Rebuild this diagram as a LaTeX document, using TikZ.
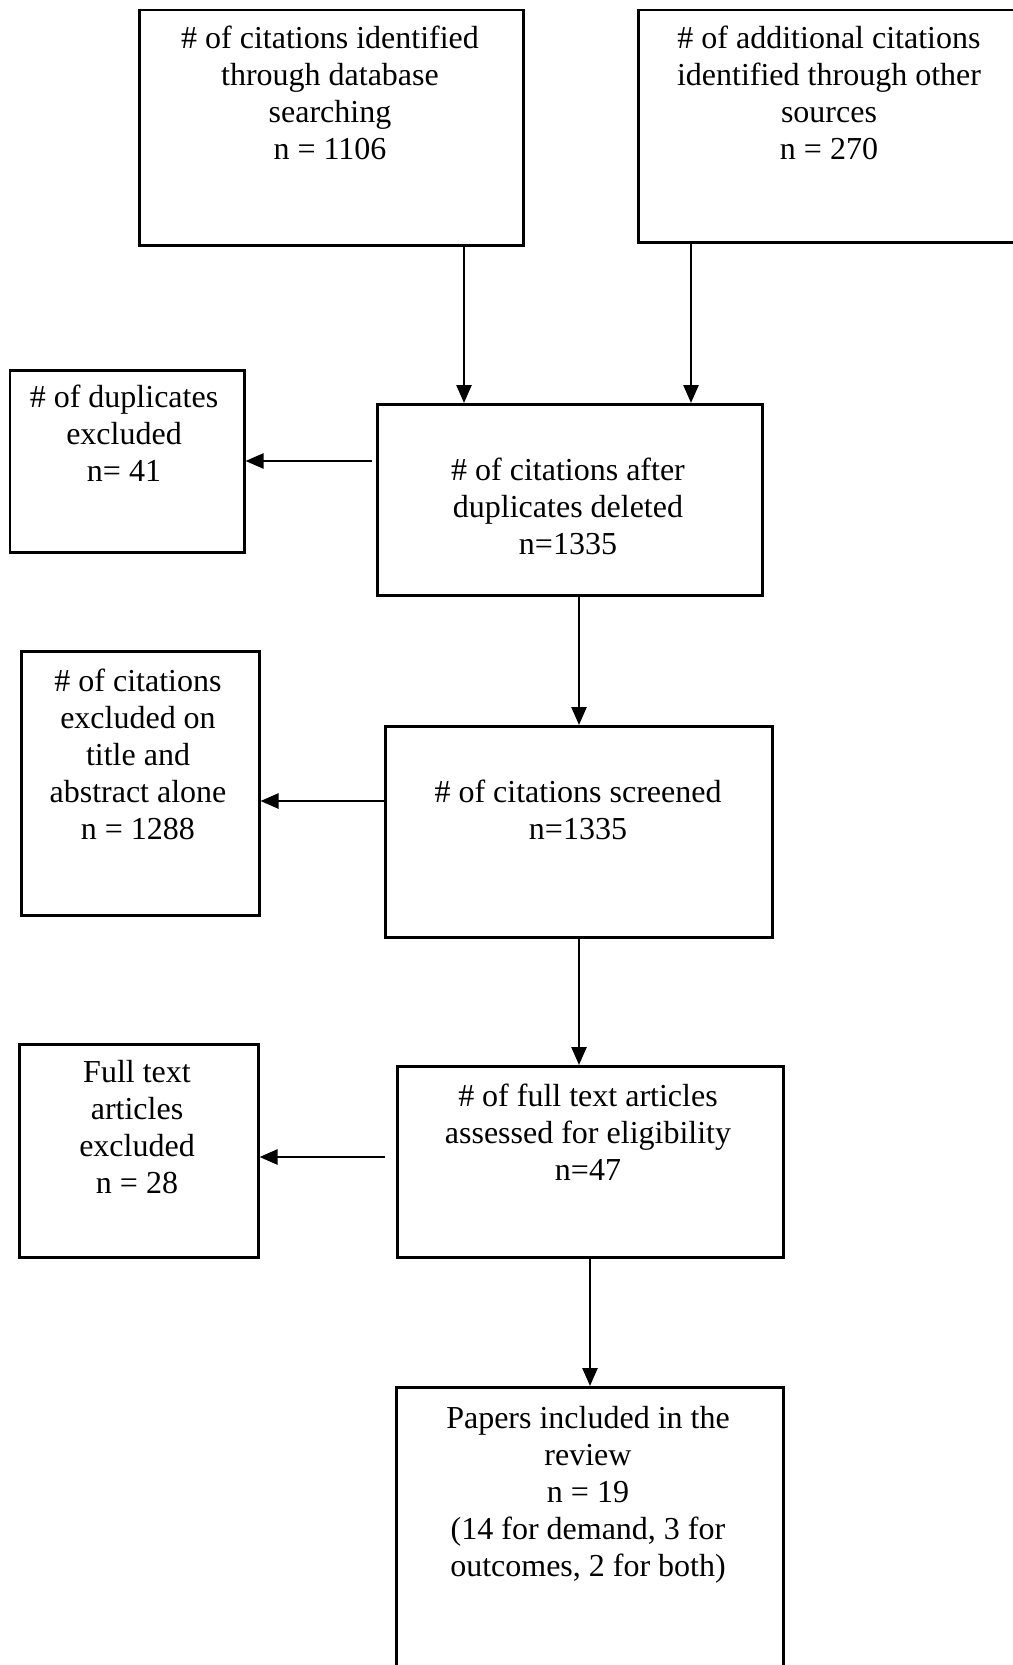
\documentclass[tikz,border=0pt]{standalone}
\usepackage{fontspec}
\setmainfont{Liberation Serif}
\usetikzlibrary{arrows.meta}
\tikzset{
  box/.style={draw, rectangle, line width=2.5pt, inner sep=0pt, anchor=north west},
  lbl/.style={anchor=north, inner sep=0pt, align=center, font=\fontsize{32}{37}\selectfont},
  arr/.style={line width=2.5pt, -{Triangle[length=18pt,width=15pt]}}
}
\begin{document}
\begin{tikzpicture}[x=1pt,y=-1pt]
\useasboundingbox (0,0) rectangle (1012,1665);
\fill[white] (0,0) rectangle (1012,1665);
% boxes
\node[box, minimum width=384pt, minimum height=235.5pt] (b1) at (138,8.5) {};
\node[box, minimum width=384pt, minimum height=232.5pt] (b2) at (637,8.5) {};
\node[box, minimum width=234.5pt, minimum height=182pt] (b3) at (8.5,369) {};
\node[box, minimum width=385pt, minimum height=191pt] (b4) at (376,403) {};
\node[box, minimum width=238pt, minimum height=264pt] (b5) at (20,650) {};
\node[box, minimum width=387pt, minimum height=211pt] (b6) at (384,725) {};
\node[box, minimum width=239pt, minimum height=213pt] (b7) at (18,1043) {};
\node[box, minimum width=386pt, minimum height=191pt] (b8) at (396,1065) {};
\node[box, minimum width=387pt, minimum height=294pt] (b9) at (395,1386) {};
% texts
\node[lbl] (t1) at (330,22) {\strut\# of citations identified\\through database\\searching\\n = 1106};
\node[lbl] (t2) at (829,22) {\strut\# of additional citations\\identified through other\\sources\\n = 270};
\node[lbl] (t3) at (124,381) {\strut\# of duplicates\\excluded\\n= 41};
\node[lbl] (t4) at (568,454) {\strut\# of citations after\\duplicates deleted\\n=1335};
\node[lbl] (t5) at (138,665) {\strut\# of citations\\excluded on\\title and\\abstract alone\\n = 1288};
\node[lbl] (t6) at (578,776) {\strut\# of citations screened\\n=1335};
\node[lbl] (t7) at (137,1056) {\strut Full text\\articles\\excluded\\n = 28};
\node[lbl] (t8) at (588,1080) {\strut\# of full text articles\\assessed for eligibility\\n=47};
\node[lbl] (t9) at (588,1402) {\strut Papers included in the\\review\\n = 19\\(14 for demand, 3 for\\outcomes, 2 for both)};
% connectors
\draw[arr] (464,0 |- b1.south) -- (464,0 |- b4.north);
\draw[arr] (691,0 |- b2.south) -- (691,0 |- b4.north);
\draw[arr] (372,461) -- (b3.east |- 0,461);
\draw[arr] (579,0 |- b4.south) -- (579,0 |- b6.north);
\draw[arr] (b6.west |- 0,801) -- (b5.east |- 0,801);
\draw[arr] (579,0 |- b6.south) -- (579,0 |- b8.north);
\draw[arr] (385,1157) -- (b7.east |- 0,1157);
\draw[arr] (590,0 |- b8.south) -- (590,0 |- b9.north);
\end{tikzpicture}
\end{document}
